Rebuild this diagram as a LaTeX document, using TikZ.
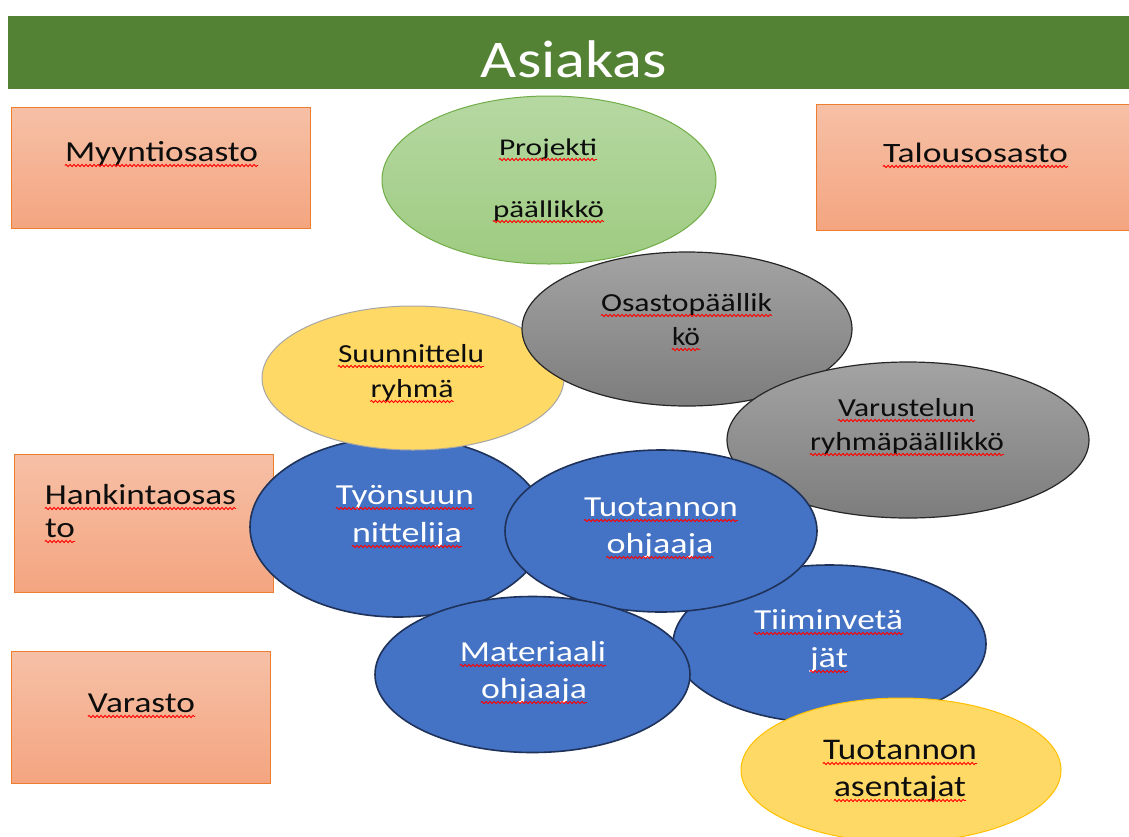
\documentclass[tikz,border=0pt]{standalone}
\usepackage{graphicx}
\usepackage{fontspec}
\setmainfont{Carlito}
\usetikzlibrary{shapes.geometric,decorations.pathmorphing}
\definecolor{barGreen}{HTML}{548235}
\definecolor{boxTop}{HTML}{F6C0A6}
\definecolor{boxBot}{HTML}{F4A580}
\definecolor{boxLine}{HTML}{ED7D31}
\definecolor{grnTop}{HTML}{B6D8A2}
\definecolor{grnBot}{HTML}{9ECB81}
\definecolor{grnLine}{HTML}{70AD47}
\definecolor{gryTop}{HTML}{A3A3A3}
\definecolor{gryBot}{HTML}{7D7D7D}
\definecolor{gryLine}{HTML}{262626}
\definecolor{ylw}{HTML}{FFD966}
\definecolor{ylwLine}{HTML}{FFC000}
\definecolor{suLine}{HTML}{A6A6A6}
\definecolor{blu}{HTML}{4472C4}
\definecolor{bluLine}{HTML}{1F3259}
\definecolor{txtDark}{HTML}{0D0D0D}
\tikzset{
  deptbox/.style={rectangle, inner sep=0, draw=boxLine, line width=1.3pt, top color=boxTop, bottom color=boxBot},
  greenell/.style={ellipse, inner sep=0, draw=grnLine, line width=1pt, top color=grnTop, bottom color=grnBot},
  grayell/.style={ellipse, inner sep=0, draw=gryLine, line width=1.2pt, top color=gryTop, bottom color=gryBot},
  yellowell/.style={ellipse, inner sep=0, fill=ylw, line width=1pt},
  blueell/.style={ellipse, inner sep=0, fill=blu, draw=bluLine, line width=1.6pt},
  squig/.style={draw=red, line width=0.9pt, decorate, decoration={snake, amplitude=1.1pt, segment length=4pt}},
}
% name, x, baseline y, width, font size, colour, text
\newcommand\tline[7]{%
  \node[anchor=base, inner sep=0, text=#6] (#1) at (#2,#3)
    {\resizebox{#4pt}{\height}{\fontsize{#5}{#5}\selectfont #7}};
  \draw[squig] ([yshift=-4.5pt]#1.base west) -- ([yshift=-4.5pt]#1.base east);
}
\begin{document}
\begin{tikzpicture}[x=1pt,y=-1pt]
\useasboundingbox (0,0) rectangle (1129,836);
\clip (0,0) rectangle (1129,836);
\fill[white] (0,0) rectangle (1129,836);

% top bar
\node[rectangle, inner sep=0, fill=barGreen, minimum width=1121pt, minimum height=73pt, anchor=north west] (bar) at (8,16) {};
\node[anchor=base, inner sep=0, text=white] (asiakas) at (574,77)
  {\resizebox{186pt}{\height}{\fontsize{53}{53}\selectfont Asiakas}};

% department boxes
\node[deptbox, minimum width=299pt, minimum height=121pt, anchor=north west] (myynti) at (11,107) {};
\node[deptbox, minimum width=330pt, minimum height=126pt, anchor=north west] (talous) at (816,104) {};
\node[deptbox, minimum width=259pt, minimum height=138pt, anchor=north west] (hankinta) at (14,454) {};
\node[deptbox, minimum width=259pt, minimum height=132pt, anchor=north west] (varasto) at (11,651) {};

% ellipses in stacking order
\node[greenell, minimum width=334pt, minimum height=168pt] (proj) at (549,180) {};
\node[blueell, minimum width=296pt, minimum height=180pt] (tyons) at (398,527) {};
\node[yellowell, draw=suLine, minimum width=302pt, minimum height=144pt] (suunn) at (413,378) {};
\node[grayell, minimum width=330pt, minimum height=154pt] (osasto) at (687,329) {};
\node[grayell, minimum width=362pt, minimum height=156pt] (varust) at (908,440) {};
\node[blueell, minimum width=313pt, minimum height=158pt] (tiimi) at (829.5,644) {};
\node[blueell, minimum width=312pt, minimum height=162pt] (tuotoh) at (661,531) {};
\node[blueell, minimum width=315pt, minimum height=156pt] (mater) at (532.5,674.5) {};
\node[yellowell, draw=ylwLine, minimum width=320pt, minimum height=144pt] (asent) at (901,770) {};

% texts
\tline{tMyynti}{161.5}{161}{193}{29}{txtDark}{Myyntiosasto}
\tline{tTalous}{975.5}{162}{185}{28}{txtDark}{Talousosasto}
\tline{tHank}{140.5}{504}{191}{29}{txtDark}{Hankintaosas}
\tline{tHankB}{60}{537}{30}{29}{txtDark}{to}
\tline{tVarasto}{141.5}{712}{107}{29}{txtDark}{Varasto}

\tline{tProjA}{548}{155}{98}{24}{txtDark}{Projekti}
\tline{tProjB}{548.5}{217}{111}{24}{txtDark}{päällikkö}
\tline{tOsA}{686.5}{311}{171}{26}{txtDark}{Osastopäällik}
\tline{tOsB}{686}{345}{28}{26}{txtDark}{kö}
\tline{tSuA}{411}{362}{146}{26}{txtDark}{Suunnittelu}
\tline{tSuB}{412}{397}{83}{26}{txtDark}{ryhmä}
\tline{tVaA}{906.5}{416}{137}{26}{txtDark}{Varustelun}
\tline{tVaB}{907}{450}{194}{26}{txtDark}{ryhmäpäällikkö}

\tline{tTyA}{405}{504}{138}{29}{white}{Työnsuun}
\tline{tTyB}{407}{542}{110}{29}{white}{nittelija}
\tline{tToA}{661}{516}{154}{29}{white}{Tuotannon}
\tline{tToB}{660}{553}{107}{29}{white}{ohjaaja}
\tline{tTiA}{828.5}{629}{149}{29}{white}{Tiiminvetä}
\tline{tTiB}{829}{667}{38}{29}{white}{jät}
\tline{tMaA}{533}{661}{146}{29}{white}{Materiaali}
\tline{tMaB}{534}{698}{106}{29}{white}{ohjaaja}
\tline{tAsA}{900}{759}{154}{30}{txtDark}{Tuotannon}
\tline{tAsB}{900}{796}{132}{30}{txtDark}{asentajat}
\end{tikzpicture}
\end{document}
